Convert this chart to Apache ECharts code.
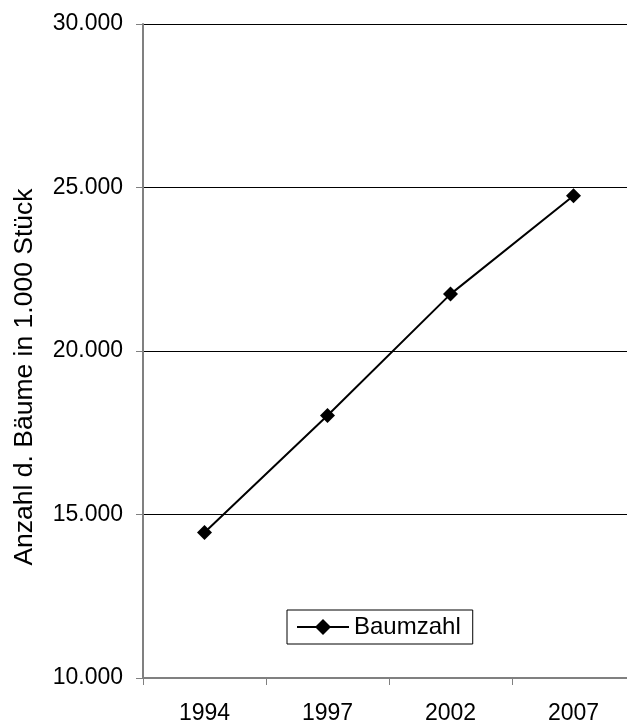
<!DOCTYPE html>
<html>
<head>
<meta charset="utf-8">
<script src="https://cdn.jsdelivr.net/npm/echarts@6/dist/echarts.min.js"></script>
<style>
  html, body { margin: 0; padding: 0; background: #fff; }
  #chart { width: 627px; height: 722px; }
</style>
</head>
<body>
<div id="chart"></div>
<script>
  // Jahre und Baumzahl (in 1.000 Stück)
  const years = ['1994', '1997', '2002', '2007'];
  const baumzahl = [14450, 18030, 21740, 24750];
  const seriesName = 'Baumzahl';
  const yTitle = 'Anzahl d. Bäume in 1.000 Stück';

  const font = '"Liberation Sans", Arial, sans-serif';

  function deNumber(v) {
    return String(v).replace(/\B(?=(\d{3})+(?!\d))/g, '.');
  }

  const myChart = echarts.init(document.getElementById('chart'));

  let option = {
    animation: false,
    backgroundColor: '#fff',
    grid: {
      left: 143,
      top: 24,
      width: 492,
      height: 654,
      containLabel: false,
      outerBoundsMode: 'none'
    },
    legend: {
      data: [seriesName],
      left: 287,
      top: 610,
      orient: 'horizontal',
      padding: [5, 12, 5, 9],
      borderColor: '#000',
      borderWidth: 1,
      itemWidth: 52,
      itemHeight: 20,
      textStyle: {
        fontFamily: font,
        fontSize: 24,
        color: '#000'
      }
    },
    xAxis: {
      type: 'category',
      data: years,
      boundaryGap: true,
      axisLine: { lineStyle: { color: '#808080', width: 2 } },
      axisTick: { show: true, length: 7, lineStyle: { color: '#808080', width: 1 } },
      axisLabel: {
        margin: 24,
        fontFamily: font,
        fontSize: 23,
        color: '#000'
      },
      splitLine: { show: false }
    },
    yAxis: {
      type: 'value',
      min: 10000,
      max: 30000,
      interval: 5000,
      axisLine: { show: true, lineStyle: { color: '#808080', width: 2 } },
      axisTick: { show: true, length: 7, lineStyle: { color: '#808080', width: 1 } },
      axisLabel: {
        margin: 20,
        fontFamily: font,
        fontSize: 23,
        color: '#000',
        formatter: deNumber
      },
      splitLine: { show: true, lineStyle: { color: '#000', width: 1 } }
    },
    graphic: [
      {
        type: 'text',
        x: 25,
        y: 377,
        rotation: Math.PI / 2,
        style: {
          text: yTitle,
          font: '26.5px ' + font,
          fill: '#000',
          textAlign: 'center',
          textVerticalAlign: 'middle'
        }
      }
    ],
    series: [
      {
        name: seriesName,
        type: 'line',
        data: baumzahl,
        symbol: 'diamond',
        symbolSize: 15,
        lineStyle: { color: '#000', width: 2 },
        itemStyle: { color: '#000' }
      }
    ]
  };

  myChart.setOption(option);
</script>
</body>
</html>
